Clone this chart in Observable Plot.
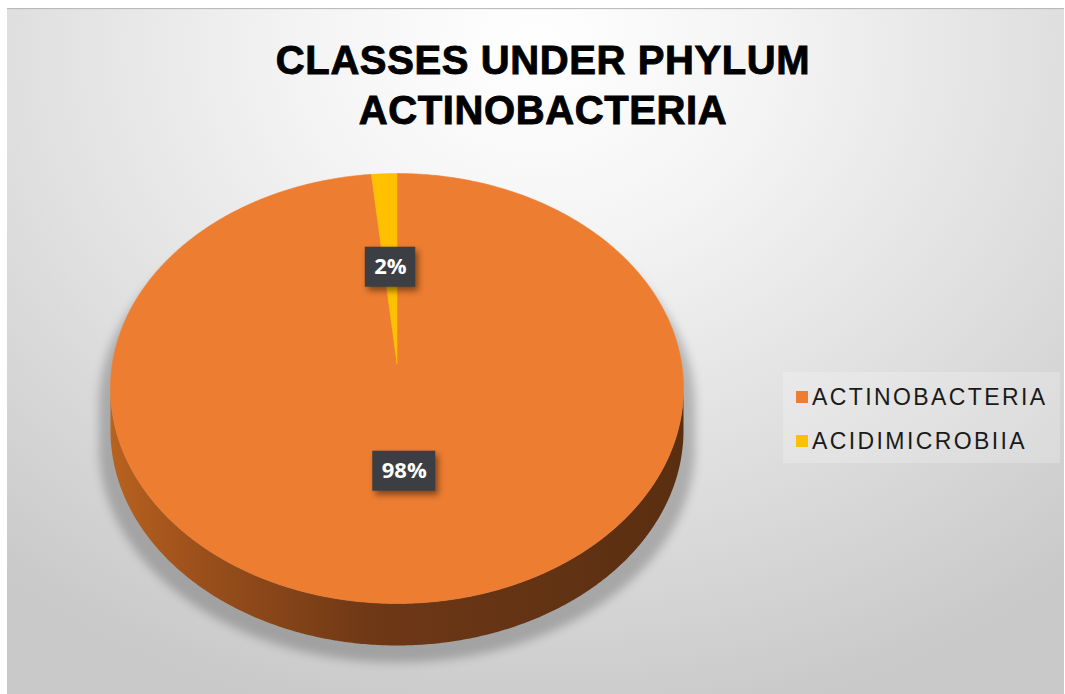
<!DOCTYPE html>
<html>
<head>
<meta charset="utf-8">
<script src="https://cdn.jsdelivr.net/npm/d3@7"></script>
<script src="https://cdn.jsdelivr.net/npm/@observablehq/plot@0.6"></script>
<style>
  html, body { margin: 0; padding: 0; background: #ffffff; }
  #wrap { position: relative; width: 1065px; height: 694px; overflow: hidden; background: #ffffff; }
  #bg { position: absolute; left: 7px; top: 8px; width: 1057px; height: 686px;
        background: radial-gradient(ellipse 78% 100% at 50% 6%, #ffffff 0%, #f4f4f4 28%, #e0e0e0 62%, #c9c9c9 100%);
        box-shadow: inset 0 2px 1px -1px #b5b5b5; }
  #title { position: absolute; left: 0; top: 0; width: 1065px; height: 150px; box-sizing: border-box;
           padding-top: 35px; padding-left: 21px; text-align: center;
           font-family: "Liberation Sans", Arial, sans-serif; font-weight: bold; font-size: 40px;
           letter-spacing: 0.6px; line-height: 50px; color: #000; -webkit-text-stroke: 0.9px #000; }
  #chart { position: absolute; left: 0; top: 150px; }
  #legend { position: absolute; left: 783px; top: 372px; width: 277px; height: 91px;
            background: rgba(255,255,255,0.22); box-sizing: border-box; padding-top: 3px; }
  .item { display: flex; align-items: center; height: 44px; padding-left: 13px;
          font-family: "Liberation Sans", Arial, sans-serif; font-size: 23px; letter-spacing: 2.4px; color: #1a1a1a; }
  .sw { width: 12px; height: 12px; margin-right: 4px; flex: none; }
</style>
</head>
<body>
<div id="wrap">
  <div id="bg"></div>
  <div id="title">CLASSES UNDER PHYLUM<br>ACTINOBACTERIA</div>
  <div id="chart"></div>
  <div id="legend"></div>
</div>
<script>
// ---- data ----
const categories = ["ACTINOBACTERIA", "ACIDIMICROBIIA"];
const values = [98.4, 1.6];
const colors = ["#ED7D31", "#FFC000"];

// ---- layout ----
const W = 1065, H = 544, TOP = 150;
const cx = 396.5, cy = 388 - TOP, rx = 286.5, ry = 215;
const P = -0.116;            // perspective (centre projected above mid-ellipse)
const DEPTH = 42 / ry;       // pie thickness in y units

function proj(a, r = 1, dz = 0) {
  const u = r * Math.sin(a), v = -r * Math.cos(a);
  const d = 1 + P * v;
  return {x: u * Math.sqrt(1 - P * P) / d, y: (v + P) / d + dz};
}

const total = d3.sum(values);
const arcs = d3.pie().sort(null).value(d => d)(values);

const wedges = arcs.map((a, i) => {
  const pts = [proj(0, 0)];
  const n = Math.max(4, Math.ceil((a.endAngle - a.startAngle) / (Math.PI / 360)));
  for (let k = 0; k <= n; k++) pts.push(proj(a.startAngle + (a.endAngle - a.startAngle) * k / n));
  pts.push(proj(0, 0));
  return pts;
});

// side band (front half of the cylinder)
const side = [];
for (let k = 0; k <= 360; k++) { const f = Math.PI * k / 360; side.push({x: Math.cos(f), y: Math.sin(f)}); }
for (let k = 360; k >= 0; k--) { const f = Math.PI * k / 360; side.push({x: Math.cos(f), y: Math.sin(f) + DEPTH}); }

// silhouette for the shadow
const sil = [];
for (let k = 0; k <= 360; k++) { const f = Math.PI + Math.PI * k / 360; sil.push({x: 1.04 * Math.cos(f), y: Math.sin(f)}); }
for (let k = 0; k <= 360; k++) { const f = Math.PI * k / 360; sil.push({x: 1.04 * Math.cos(f), y: Math.sin(f) + DEPTH}); }

// labels
const labels = arcs.map((a, i) => {
  const mid = (a.startAngle + a.endAngle) / 2;
  const p = proj(mid, 0.48);
  return {x: p.x, y: p.y, text: Math.round(values[i] / total * 100) + "%"};
});
const ctx = document.createElement("canvas").getContext("2d");
ctx.font = "bold 22px 'Open Sans'";

const defs = () => {
  const g = d3.create("svg:defs");
  const lg = g.append("linearGradient").attr("id", "sideGrad").attr("x1", 0).attr("x2", 1).attr("y1", 0).attr("y2", 0);
  [[0, "#b8621f"], [0.15, "#9c501b"], [0.45, "#6f3816"], [0.75, "#633314"], [1, "#5a2e11"]]
    .forEach(([o, c]) => lg.append("stop").attr("offset", o).attr("stop-color", c));
  return g.node();
};

const marks = [
  defs,
  Plot.line(sil, {x: "x", y: "y", fill: "#000000", fillOpacity: 0.22, stroke: "none", dy: 17, imageFilter: "blur(5px)"}),
  Plot.line(side, {x: "x", y: "y", fill: "url(#sideGrad)", stroke: "none"}),
  ...wedges.map((w, i) => Plot.line(w, {x: "x", y: "y", fill: colors[i], stroke: colors[i], strokeWidth: 0.6})),
  ...labels.map(l => {
    const hw = ctx.measureText(l.text).width / 2 + 9;
    return Plot.rect([l], {x1: "x", x2: "x", y1: "y", y2: "y", fill: "#3b3e43",
      insetLeft: -hw, insetRight: -hw, insetTop: -20, insetBottom: -20,
      imageFilter: "drop-shadow(3px 4px 3px rgba(0,0,0,0.45))"});
  }),
  Plot.text(labels, {x: "x", y: "y", text: "text", fill: "#ffffff", fontSize: 22, fontWeight: "bold",
    fontFamily: "'Open Sans', sans-serif", textAnchor: "middle", lineAnchor: "middle"})
];

const chart = Plot.plot({
  width: W, height: H,
  margin: 0,
  style: {background: "transparent", overflow: "visible"},
  x: {domain: [-cx / rx, (W - cx) / rx], range: [0, W], axis: null},
  y: {domain: [-cy / ry, (H - cy) / ry], range: [0, H], axis: null},
  marks
});
document.getElementById("chart").appendChild(chart);

// legend
const leg = d3.select("#legend");
categories.forEach((c, i) => {
  const it = leg.append("div").attr("class", "item");
  it.append("div").attr("class", "sw").style("background", colors[i]);
  it.append("span").text(c);
});
</script>
</body>
</html>
